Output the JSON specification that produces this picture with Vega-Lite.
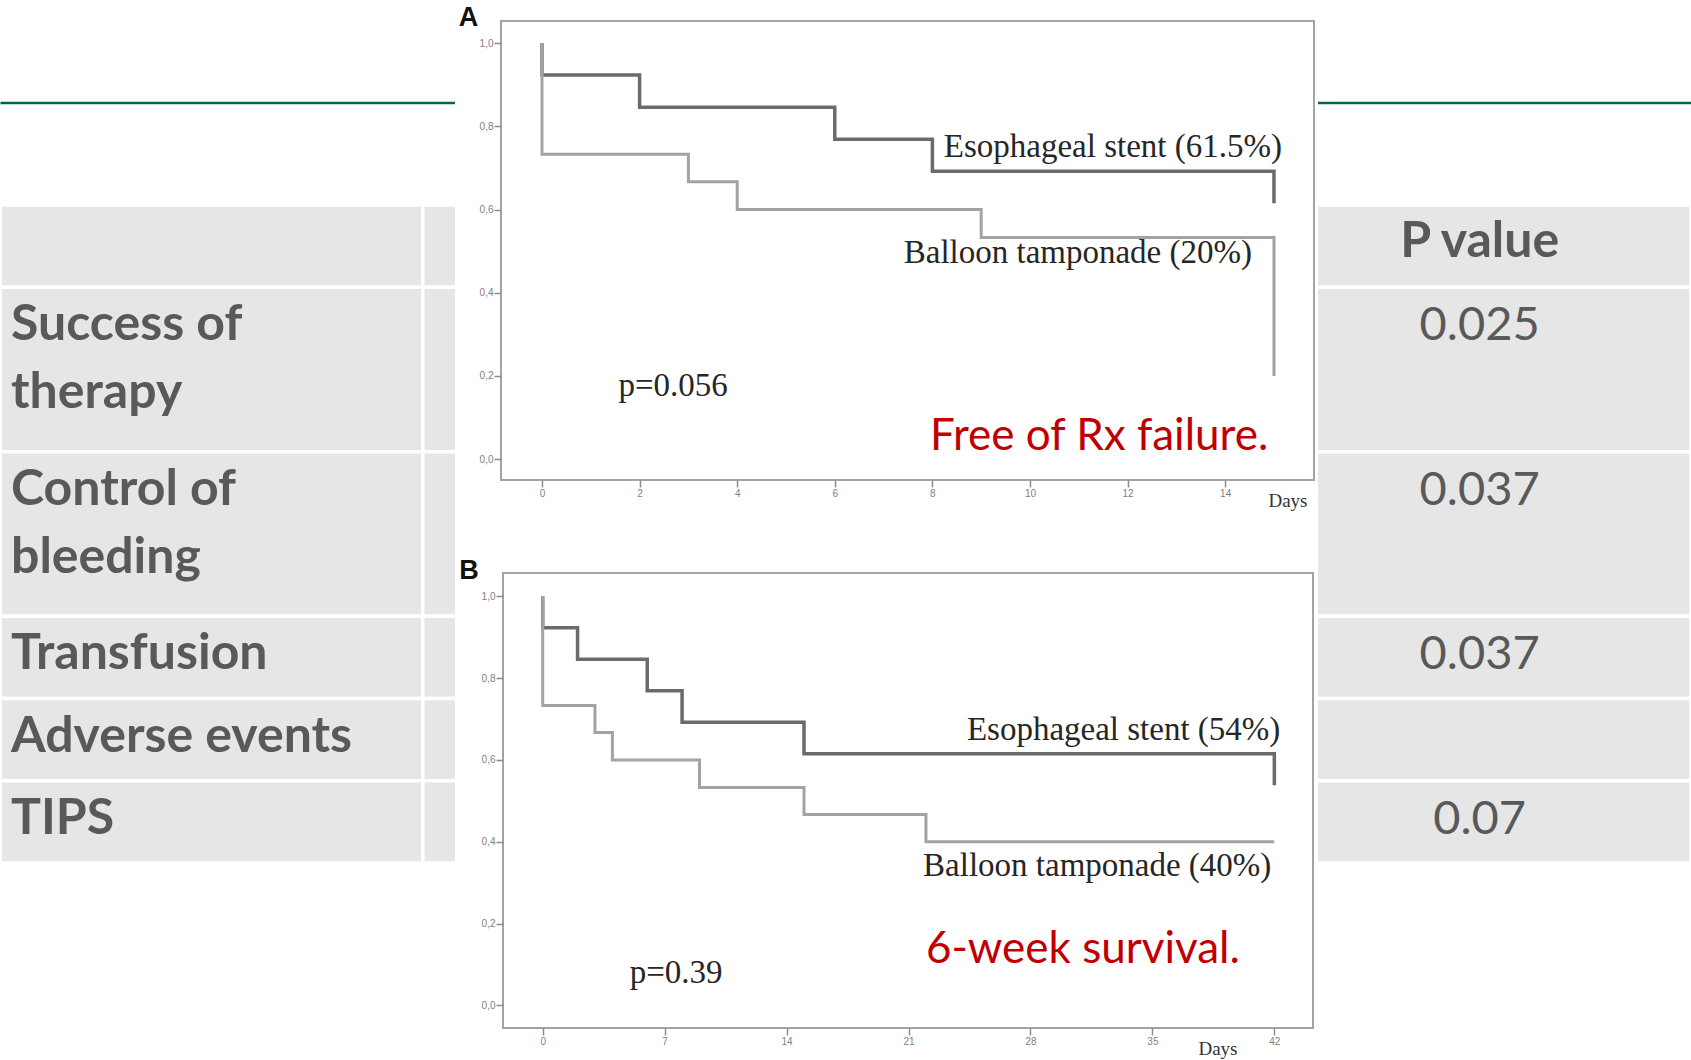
{
  "$schema": "https://vega.github.io/schema/vega-lite/v6.json",
  "width": 1691,
  "height": 1060,
  "padding": 0,
  "autosize": {"type": "none"},
  "background": "white",
  "config": {"view": {"stroke": null}, "font": "Liberation Sans"},
  "datasets": {
    "outcomes": [
      {"section": "header", "item": "", "stent": "", "balloon": "", "pValue": "P value", "lines": 1},
      {"section": "body", "item": "Success of\ntherapy", "stent": "", "balloon": "", "pValue": "0.025", "lines": 2},
      {"section": "body", "item": "Control of\nbleeding", "stent": "", "balloon": "", "pValue": "0.037", "lines": 2},
      {"section": "body", "item": "Transfusion", "stent": "", "balloon": "", "pValue": "0.037", "lines": 1},
      {"section": "body", "item": "Adverse events", "stent": "", "balloon": "", "pValue": "", "lines": 1},
      {"section": "body", "item": "TIPS", "stent": "", "balloon": "", "pValue": "0.07", "lines": 1}
    ],
    "kmA": [
      {"group": "Esophageal stent", "day": 0, "surv": 1.0},
      {"group": "Esophageal stent", "day": 0, "surv": 0.923},
      {"group": "Esophageal stent", "day": 2, "surv": 0.846},
      {"group": "Esophageal stent", "day": 6, "surv": 0.769},
      {"group": "Esophageal stent", "day": 8, "surv": 0.692},
      {"group": "Esophageal stent", "day": 15, "surv": 0.615},
      {"group": "Balloon tamponade", "day": 0, "surv": 1.0},
      {"group": "Balloon tamponade", "day": 0, "surv": 0.733},
      {"group": "Balloon tamponade", "day": 3, "surv": 0.667},
      {"group": "Balloon tamponade", "day": 4, "surv": 0.6},
      {"group": "Balloon tamponade", "day": 9, "surv": 0.533},
      {"group": "Balloon tamponade", "day": 15, "surv": 0.2}
    ],
    "kmB": [
      {"group": "Esophageal stent", "day": 0, "surv": 1.0},
      {"group": "Esophageal stent", "day": 0, "surv": 0.923},
      {"group": "Esophageal stent", "day": 2, "surv": 0.846},
      {"group": "Esophageal stent", "day": 6, "surv": 0.769},
      {"group": "Esophageal stent", "day": 8, "surv": 0.692},
      {"group": "Esophageal stent", "day": 15, "surv": 0.615},
      {"group": "Esophageal stent", "day": 42, "surv": 0.538},
      {"group": "Balloon tamponade", "day": 0, "surv": 1.0},
      {"group": "Balloon tamponade", "day": 0, "surv": 0.733},
      {"group": "Balloon tamponade", "day": 3, "surv": 0.667},
      {"group": "Balloon tamponade", "day": 4, "surv": 0.6},
      {"group": "Balloon tamponade", "day": 9, "surv": 0.533},
      {"group": "Balloon tamponade", "day": 15, "surv": 0.467},
      {"group": "Balloon tamponade", "day": 22, "surv": 0.4},
      {"group": "Balloon tamponade", "day": 42, "surv": 0.4}
    ],
    "curveLabelsA": [
      {"group": "Esophageal stent", "label": "Esophageal stent (61.5%)", "day": 15, "surv": 0.692},
      {"group": "Balloon tamponade", "label": "Balloon tamponade (20%)", "day": 15, "surv": 0.533}
    ],
    "curveLabelsB": [
      {"group": "Esophageal stent", "label": "Esophageal stent (54%)", "day": 42, "surv": 0.615},
      {"group": "Balloon tamponade", "label": "Balloon tamponade (40%)", "day": 42, "surv": 0.4}
    ]
  },
  "layer": [
    {
      "data": {"name": "outcomes"},
      "transform": [
        {"window": [{"op": "sum", "field": "lines", "as": "lineEnd"}], "frame": [null, 0]},
        {"calculate": "datum.lineEnd - datum.lines", "as": "lineStart"},
        {"fold": ["item", "stent", "balloon", "pValue"], "as": ["column", "cellText"]}
      ],
      "layer": [
        {
          "mark": {"type": "rect", "fill": "#e6e6e6", "stroke": "white", "strokeWidth": 3.5},
          "encoding": {
            "x": {"field": "column", "type": "nominal",
                  "scale": {"domain": ["item", "stent", "balloon", "pValue"], "paddingInner": 0, "paddingOuter": 0},
                  "axis": {"orient": "top", "offset": -102.5, "domain": true, "domainColor": "#00664b", "domainWidth": 2.5,
                           "ticks": false, "labels": false, "grid": false, "title": null, "zindex": 0}},
            "y": {"field": "lineStart", "type": "quantitative",
                  "scale": {"domain": [0, 8], "range": [205, 863], "nice": false, "zero": false}, "axis": null},
            "y2": {"field": "lineEnd"}
          }
        },
        {
          "transform": [{"filter": "datum.column === 'item'"}],
          "mark": {"type": "text", "align": "left", "baseline": "alphabetic", "dx": 11, "dy": 53,
                   "font": "Lato", "fontWeight": "bold", "fontSize": 50, "color": "#595959",
                   "lineBreak": "\n", "lineHeight": 68},
          "encoding": {
            "x": {"field": "column", "type": "nominal", "bandPosition": 0,
                  "scale": {"domain": ["item", "stent", "balloon", "pValue"], "paddingInner": 0, "paddingOuter": 0}},
            "y": {"field": "lineStart", "type": "quantitative",
                  "scale": {"domain": [0, 8], "range": [205, 863], "nice": false, "zero": false}, "axis": null},
            "text": {"field": "cellText"}
          }
        },
        {
          "transform": [{"filter": "datum.column === 'pValue' && datum.section === 'header'"}],
          "mark": {"type": "text", "align": "center", "baseline": "alphabetic", "dy": 52,
                   "font": "Lato", "fontWeight": "bold", "fontSize": 50, "color": "#595959"},
          "encoding": {
            "x": {"field": "column", "type": "nominal", "bandPosition": 0.5,
                  "scale": {"domain": ["item", "stent", "balloon", "pValue"], "paddingInner": 0, "paddingOuter": 0}},
            "y": {"field": "lineStart", "type": "quantitative",
                  "scale": {"domain": [0, 8], "range": [205, 863], "nice": false, "zero": false}, "axis": null},
            "text": {"field": "cellText"}
          }
        },
        {
          "transform": [{"filter": "datum.column === 'pValue' && datum.section === 'body'"}],
          "mark": {"type": "text", "align": "center", "baseline": "alphabetic", "dy": 53,
                   "font": "Lato", "fontSize": 47, "color": "#595959"},
          "encoding": {
            "x": {"field": "column", "type": "nominal", "bandPosition": 0.5,
                  "scale": {"domain": ["item", "stent", "balloon", "pValue"], "paddingInner": 0, "paddingOuter": 0}},
            "y": {"field": "lineStart", "type": "quantitative",
                  "scale": {"domain": [0, 8], "range": [205, 863], "nice": false, "zero": false}, "axis": null},
            "text": {"field": "cellText"}
          }
        }
      ]
    },
    {
      "layer": [
        {
          "data": {"values": [{"figure": "A"}]},
          "mark": {"type": "rect", "fill": "white"},
          "encoding": {
            "x": {"datum": -1.783, "type": "quantitative", "scale": {"domain": [-0.84, 15.82], "range": [501, 1314], "nice": false, "zero": false}},
            "x2": {"datum": 15.902},
            "y": {"datum": 1.1035, "type": "quantitative", "scale": {"domain": [-0.05, 1.053], "range": [480, 21], "nice": false, "zero": false}},
            "y2": {"datum": -0.163}
          }
        },
        {
          "data": {"values": [{"figure": "A"}]},
          "mark": {"type": "rect", "fillOpacity": 0, "stroke": "#a3a3a3", "strokeWidth": 2},
          "encoding": {
            "x": {"datum": -0.84, "type": "quantitative", "scale": {"domain": [-0.84, 15.82], "range": [501, 1314], "nice": false, "zero": false}},
            "x2": {"datum": 15.82},
            "y": {"datum": -0.05, "type": "quantitative", "scale": {"domain": [-0.05, 1.053], "range": [480, 21], "nice": false, "zero": false}},
            "y2": {"datum": 1.053}
          }
        },
        {
          "data": {"name": "kmA"},
          "mark": {"type": "line", "interpolate": "step-after"},
          "encoding": {
            "x": {"field": "day", "type": "quantitative",
                  "scale": {"domain": [-0.84, 15.82], "range": [501, 1314], "nice": false, "zero": false},
                  "axis": {"orient": "bottom", "offset": -580, "values": [0, 2, 4, 6, 8, 10, 12, 14], "format": "d",
                           "domain": false, "grid": false, "tickSize": 7, "tickColor": "#8c8c8c", "tickWidth": 1.5,
                           "labelFont": "Liberation Sans", "labelFontSize": 10, "labelColor": "#808080", "labelPadding": 1,
                           "labelFlush": false, "labelOverlap": false,
                           "title": "Days", "titleFont": "Liberation Serif", "titleFontSize": 19, "titleFontWeight": "normal",
                           "titleColor": "#333333", "titleX": 1307, "titleY": 26, "titleAlign": "right", "titleBaseline": "alphabetic",
                           "zindex": 1}},
            "y": {"field": "surv", "type": "quantitative",
                  "scale": {"domain": [-0.05, 1.053], "range": [480, 21], "nice": false, "zero": false},
                  "axis": {"orient": "left", "offset": -501, "values": [0, 0.2, 0.4, 0.6, 0.8, 1],
                           "labelExpr": "replace(format(datum.value, '.1f'), '.', ',')",
                           "domain": false, "grid": false, "tickSize": 7, "tickColor": "#8c8c8c", "tickWidth": 1.5,
                           "labelFont": "Liberation Sans", "labelFontSize": 10, "labelColor": "#808080", "labelPadding": 1,
                           "labelFlush": false, "labelOverlap": false,
                           "title": "A", "titleFont": "Liberation Sans", "titleFontWeight": "bold", "titleFontSize": 27,
                           "titleColor": "#111111", "titleAngle": 0, "titleX": -33, "titleY": 25, "titleAlign": "center",
                           "titleBaseline": "alphabetic", "zindex": 1}},
            "color": {"field": "group", "type": "nominal", "legend": null,
                      "scale": {"domain": ["Esophageal stent", "Balloon tamponade"], "range": ["#6b6b6b", "#a3a3a3"]}},
            "strokeWidth": {"field": "group", "type": "nominal", "legend": null,
                            "scale": {"domain": ["Esophageal stent", "Balloon tamponade"], "range": [3.5, 3]}},
            "order": [{"field": "surv", "sort": "descending"}, {"field": "day", "sort": "ascending"}]
          }
        },
        {
          "data": {"name": "curveLabelsA"},
          "transform": [{"filter": "datum.group === 'Esophageal stent'"}],
          "mark": {"type": "text", "align": "right", "baseline": "alphabetic", "dx": 8, "dy": -14,
                   "font": "Liberation Serif", "fontSize": 33, "color": "#262626"},
          "encoding": {
            "x": {"field": "day", "type": "quantitative", "scale": {"domain": [-0.84, 15.82], "range": [501, 1314], "nice": false, "zero": false}},
            "y": {"field": "surv", "type": "quantitative", "scale": {"domain": [-0.05, 1.053], "range": [480, 21], "nice": false, "zero": false}},
            "text": {"field": "label"}
          }
        },
        {
          "data": {"name": "curveLabelsA"},
          "transform": [{"filter": "datum.group === 'Balloon tamponade'"}],
          "mark": {"type": "text", "align": "right", "baseline": "alphabetic", "dx": -22, "dy": 26,
                   "font": "Liberation Serif", "fontSize": 33, "color": "#262626"},
          "encoding": {
            "x": {"field": "day", "type": "quantitative", "scale": {"domain": [-0.84, 15.82], "range": [501, 1314], "nice": false, "zero": false}},
            "y": {"field": "surv", "type": "quantitative", "scale": {"domain": [-0.05, 1.053], "range": [480, 21], "nice": false, "zero": false}},
            "text": {"field": "label"}
          }
        },
        {
          "data": {"values": [{"note": "p=0.056"}]},
          "mark": {"type": "text", "align": "left", "baseline": "alphabetic",
                   "font": "Liberation Serif", "fontSize": 33, "color": "#262626"},
          "encoding": {
            "x": {"datum": 1.568, "type": "quantitative", "scale": {"domain": [-0.84, 15.82], "range": [501, 1314], "nice": false, "zero": false}},
            "y": {"datum": 0.151, "type": "quantitative", "scale": {"domain": [-0.05, 1.053], "range": [480, 21], "nice": false, "zero": false}},
            "text": {"field": "note"}
          }
        },
        {
          "data": {"values": [{"note": "Free of Rx failure."}]},
          "mark": {"type": "text", "align": "left", "baseline": "alphabetic",
                   "font": "Lato", "fontSize": 44, "color": "#c00000"},
          "encoding": {
            "x": {"datum": 7.951, "type": "quantitative", "scale": {"domain": [-0.84, 15.82], "range": [501, 1314], "nice": false, "zero": false}},
            "y": {"datum": 0.022, "type": "quantitative", "scale": {"domain": [-0.05, 1.053], "range": [480, 21], "nice": false, "zero": false}},
            "text": {"field": "note"}
          }
        }
      ]
    },
    {
      "layer": [
        {
          "data": {"values": [{"figure": "B"}]},
          "mark": {"type": "rect", "fill": "white"},
          "encoding": {
            "x": {"datum": -5.035, "type": "quantitative", "scale": {"domain": [-2.28, 44.22], "range": [503, 1313], "nice": false, "zero": false}},
            "x2": {"datum": 44.507},
            "y": {"datum": 1.1694, "type": "quantitative", "scale": {"domain": [-0.055, 1.057], "range": [1028, 573], "nice": false, "zero": false}},
            "y2": {"datum": -0.1332}
          }
        },
        {
          "data": {"values": [{"figure": "B"}]},
          "mark": {"type": "rect", "fillOpacity": 0, "stroke": "#a3a3a3", "strokeWidth": 2},
          "encoding": {
            "x": {"datum": -2.28, "type": "quantitative", "scale": {"domain": [-2.28, 44.22], "range": [503, 1313], "nice": false, "zero": false}},
            "x2": {"datum": 44.22},
            "y": {"datum": -0.055, "type": "quantitative", "scale": {"domain": [-0.055, 1.057], "range": [1028, 573], "nice": false, "zero": false}},
            "y2": {"datum": 1.057}
          }
        },
        {
          "data": {"name": "kmB"},
          "mark": {"type": "line", "interpolate": "step-after"},
          "encoding": {
            "x": {"field": "day", "type": "quantitative",
                  "scale": {"domain": [-2.28, 44.22], "range": [503, 1313], "nice": false, "zero": false},
                  "axis": {"orient": "bottom", "offset": -32, "values": [0, 7, 14, 21, 28, 35, 42], "format": "d",
                           "domain": false, "grid": false, "tickSize": 7, "tickColor": "#8c8c8c", "tickWidth": 1.5,
                           "labelFont": "Liberation Sans", "labelFontSize": 10, "labelColor": "#808080", "labelPadding": 1,
                           "labelFlush": false, "labelOverlap": false,
                           "title": "Days", "titleFont": "Liberation Serif", "titleFontSize": 19, "titleFontWeight": "normal",
                           "titleColor": "#333333", "titleX": 1237, "titleY": 26, "titleAlign": "right", "titleBaseline": "alphabetic",
                           "zindex": 1}},
            "y": {"field": "surv", "type": "quantitative",
                  "scale": {"domain": [-0.055, 1.057], "range": [1028, 573], "nice": false, "zero": false},
                  "axis": {"orient": "left", "offset": -503, "values": [0, 0.2, 0.4, 0.6, 0.8, 1],
                           "labelExpr": "replace(format(datum.value, '.1f'), '.', ',')",
                           "domain": false, "grid": false, "tickSize": 7, "tickColor": "#8c8c8c", "tickWidth": 1.5,
                           "labelFont": "Liberation Sans", "labelFontSize": 10, "labelColor": "#808080", "labelPadding": 1,
                           "labelFlush": false, "labelOverlap": false,
                           "title": "B", "titleFont": "Liberation Sans", "titleFontWeight": "bold", "titleFontSize": 27,
                           "titleColor": "#111111", "titleAngle": 0, "titleX": -34.5, "titleY": 578, "titleAlign": "center",
                           "titleBaseline": "alphabetic", "zindex": 1}},
            "color": {"field": "group", "type": "nominal", "legend": null,
                      "scale": {"domain": ["Esophageal stent", "Balloon tamponade"], "range": ["#6b6b6b", "#a3a3a3"]}},
            "strokeWidth": {"field": "group", "type": "nominal", "legend": null,
                            "scale": {"domain": ["Esophageal stent", "Balloon tamponade"], "range": [3.5, 3]}},
            "order": [{"field": "surv", "sort": "descending"}, {"field": "day", "sort": "ascending"}]
          }
        },
        {
          "data": {"name": "curveLabelsB"},
          "transform": [{"filter": "datum.group === 'Esophageal stent'"}],
          "mark": {"type": "text", "align": "right", "baseline": "alphabetic", "dx": 6, "dy": -14,
                   "font": "Liberation Serif", "fontSize": 33, "color": "#262626"},
          "encoding": {
            "x": {"field": "day", "type": "quantitative", "scale": {"domain": [-2.28, 44.22], "range": [503, 1313], "nice": false, "zero": false}},
            "y": {"field": "surv", "type": "quantitative", "scale": {"domain": [-0.055, 1.057], "range": [1028, 573], "nice": false, "zero": false}},
            "text": {"field": "label"}
          }
        },
        {
          "data": {"name": "curveLabelsB"},
          "transform": [{"filter": "datum.group === 'Balloon tamponade'"}],
          "mark": {"type": "text", "align": "right", "baseline": "alphabetic", "dx": -3, "dy": 34,
                   "font": "Liberation Serif", "fontSize": 33, "color": "#262626"},
          "encoding": {
            "x": {"field": "day", "type": "quantitative", "scale": {"domain": [-2.28, 44.22], "range": [503, 1313], "nice": false, "zero": false}},
            "y": {"field": "surv", "type": "quantitative", "scale": {"domain": [-0.055, 1.057], "range": [1028, 573], "nice": false, "zero": false}},
            "text": {"field": "label"}
          }
        },
        {
          "data": {"values": [{"note": "p=0.39"}]},
          "mark": {"type": "text", "align": "left", "baseline": "alphabetic",
                   "font": "Liberation Serif", "fontSize": 33, "color": "#262626"},
          "encoding": {
            "x": {"datum": 4.993, "type": "quantitative", "scale": {"domain": [-2.28, 44.22], "range": [503, 1313], "nice": false, "zero": false}},
            "y": {"datum": 0.055, "type": "quantitative", "scale": {"domain": [-0.055, 1.057], "range": [1028, 573], "nice": false, "zero": false}},
            "text": {"field": "note"}
          }
        },
        {
          "data": {"values": [{"note": "6-week survival."}]},
          "mark": {"type": "text", "align": "left", "baseline": "alphabetic",
                   "font": "Lato", "fontSize": 44, "color": "#c00000"},
          "encoding": {
            "x": {"datum": 22.0, "type": "quantitative", "scale": {"domain": [-2.28, 44.22], "range": [503, 1313], "nice": false, "zero": false}},
            "y": {"datum": 0.105, "type": "quantitative", "scale": {"domain": [-0.055, 1.057], "range": [1028, 573], "nice": false, "zero": false}},
            "text": {"field": "note"}
          }
        }
      ]
    }
  ],
  "resolve": {
    "scale": {"x": "independent", "y": "independent"},
    "axis": {"x": "independent", "y": "independent"}
  }
}
